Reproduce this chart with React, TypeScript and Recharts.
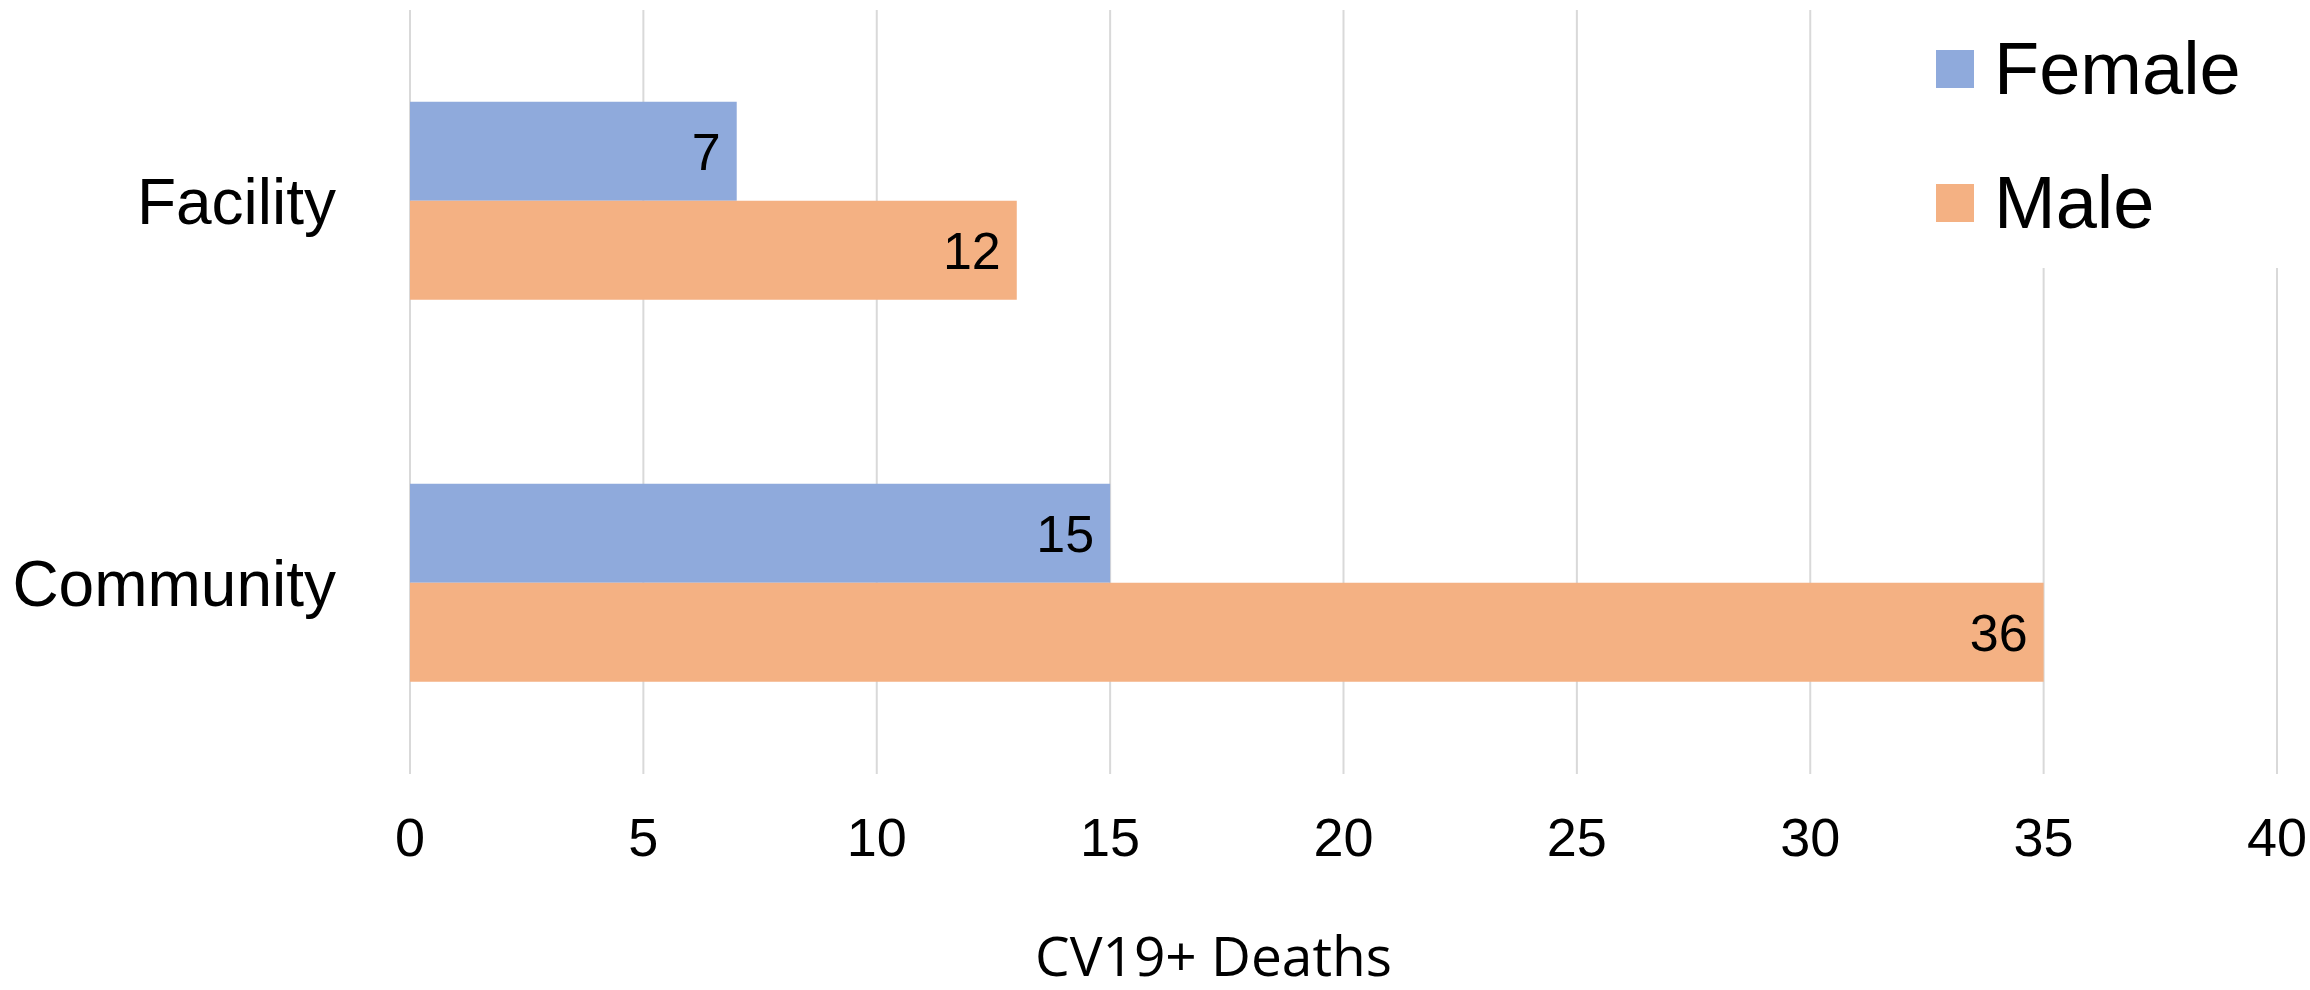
import React from 'react';
import {
  BarChart,
  Bar,
  XAxis,
  YAxis,
  CartesianGrid,
  Legend,
  LabelList,
} from 'recharts';

// categories top to bottom
const categories = ['Facility', 'Community'];
// bar lengths as drawn in the picture
const femaleValues = [7, 15];
const maleValues = [13, 35];
// numbers printed on the bars
const femaleLabels = [7, 15];
const maleLabels = [12, 36];
const xTicks = [0, 5, 10, 15, 20, 25, 30, 35, 40];
const axisTitle = 'CV19+ Deaths';

const FEMALE = '#8FAADC';
const MALE = '#F4B183';
const ARIAL = '"Liberation Sans", Arial, sans-serif';

const data = categories.map((category, i) => ({
  category,
  Female: femaleValues[i],
  Male: maleValues[i],
  femaleLabel: femaleLabels[i],
  maleLabel: maleLabels[i],
}));

const LegendBox = (props: any) => {
  const { payload = [] } = props;
  return (
    <div
      style={{
        width: 410,
        height: 268,
        background: '#fff',
        boxSizing: 'border-box',
        paddingTop: 2,
      }}
    >
      {payload.map((entry: any) => (
        <div
          key={entry.value}
          style={{ height: 134, display: 'flex', alignItems: 'center' }}
        >
          <div
            style={{
              width: 38,
              height: 38,
              marginLeft: 36,
              background: entry.color,
            }}
          />
          <span
            style={{
              marginLeft: 20,
              fontFamily: ARIAL,
              fontSize: 74,
              lineHeight: 1,
              color: '#000',
            }}
          >
            {entry.value}
          </span>
        </div>
      ))}
    </div>
  );
};

const App = () => {
  return (
    <div style={{ position: 'absolute', left: 0, top: 0, width: 2310, height: 990, background: '#fff' }}>
      <BarChart
        width={2310}
        height={990}
        data={data}
        layout="vertical"
        margin={{ top: 10, right: 33, left: 0, bottom: 0 }}
        barCategoryGap="24%"
        barGap={0}
      >
        <CartesianGrid horizontal={false} stroke="#D9D9D9" strokeWidth={2} />
        <XAxis
          type="number"
          domain={[0, 40]}
          ticks={xTicks}
          axisLine={false}
          tickLine={false}
          tickSize={0}
          tickMargin={44}
          height={216}
          tick={{ fontSize: 54, fill: '#000', fontFamily: ARIAL }}
          label={{
            value: axisTitle,
            position: 'insideBottom',
            offset: 14,
            dx: -130,
            fontSize: 55,
            fill: '#000',
            fontFamily: '"Open Sans", sans-serif',
          }}
        />
        <YAxis
          type="category"
          dataKey="category"
          width={410}
          axisLine={false}
          tickLine={false}
          tickSize={0}
          tickMargin={74}
          tick={{ fontSize: 64, fill: '#000', fontFamily: ARIAL }}
        />
        <Legend
          layout="vertical"
          verticalAlign="middle"
          align="center"
          content={<LegendBox />}
          wrapperStyle={{ left: 1900, top: 0, width: 410, height: 268 }}
        />
        <Bar dataKey="Female" fill={FEMALE} isAnimationActive={false}>
          <LabelList
            dataKey="femaleLabel"
            position="insideRight"
            offset={16}
            fill="#000"
            fontSize={52}
            fontFamily={ARIAL}
          />
        </Bar>
        <Bar dataKey="Male" fill={MALE} isAnimationActive={false}>
          <LabelList
            dataKey="maleLabel"
            position="insideRight"
            offset={16}
            fill="#000"
            fontSize={52}
            fontFamily={ARIAL}
          />
        </Bar>
      </BarChart>
    </div>
  );
};

export default App;
